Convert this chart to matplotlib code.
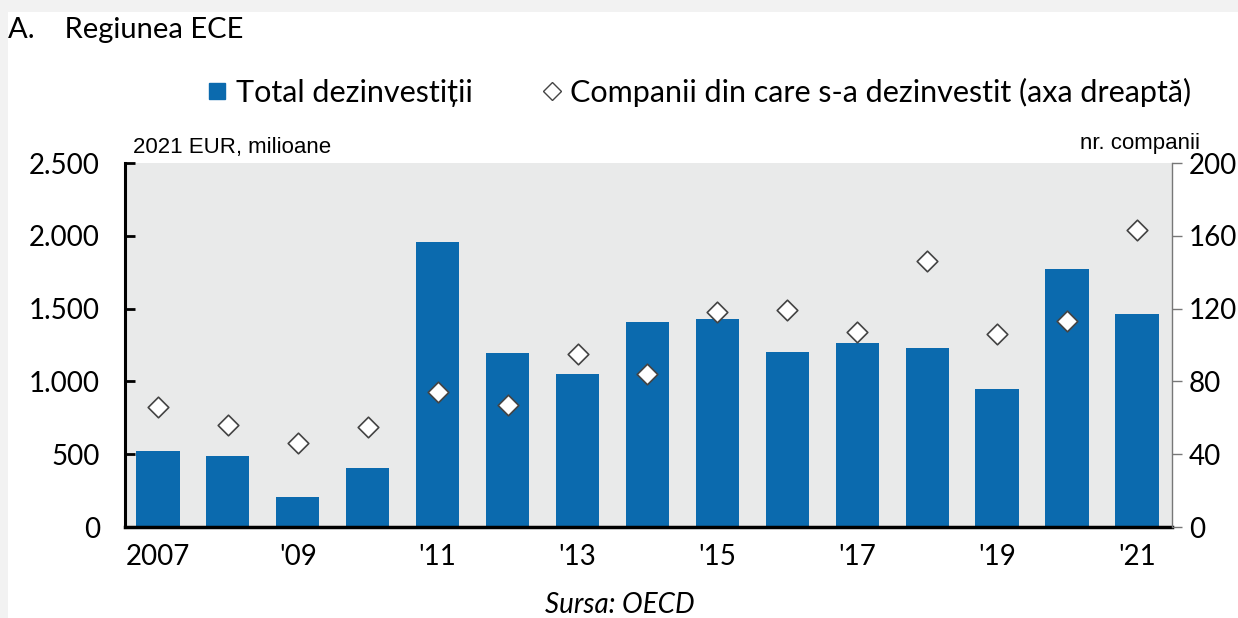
import numpy as np
import matplotlib.pyplot as plt
from matplotlib.patches import Rectangle
from matplotlib.lines import Line2D

years = list(range(2007, 2022))
tick_labels = ['2007', '', "'09", '', "'11", '', "'13", '', "'15", '', "'17", '', "'19", '', "'21"]
total_divest = [525, 488, 203, 408, 1954, 1194, 1053, 1408, 1426, 1200, 1265, 1226, 945, 1774, 1461]
companies = [66, 56, 46, 55, 74, 67, 95, 84, 118, 119, 107, 146, 106, 113, 163]

blue = '#0b6aae'
font = ['Lato', 'DejaVu Sans']
narrow = ['Liberation Sans Narrow', 'Liberation Sans', 'DejaVu Sans']
plt.rcParams['font.family'] = font

fig = plt.figure(figsize=(12.38, 6.18), dpi=100)
fig.patch.set_facecolor('#f2f2f2')
fig.patches.append(Rectangle((8 / 1238, 0), 1, 1 - 12 / 618, transform=fig.transFigure,
                             facecolor='white', edgecolor='none', zorder=-1))

ax = fig.add_axes([125 / 1238, 1 - 527 / 618, (1172 - 125) / 1238, (527 - 163) / 618])
ax.set_facecolor('#e9eaea')
x = np.arange(len(years))
ax.bar(x, total_divest, width=0.62, color=blue, zorder=2)
ax.set_xlim(-0.47, len(years) - 0.5)
ax.set_ylim(0, 2500)
ax.set_yticks([0, 500, 1000, 1500, 2000, 2500])
ax.set_yticklabels(['0', '500', '1.000', '1.500', '2.000', '2.500'])
ax.set_xticks(x)
ax.set_xticklabels(tick_labels)
ax.tick_params(axis='x', length=0, pad=12, labelsize=20)
ax.tick_params(axis='y', direction='in', length=7, width=2, pad=18, labelsize=20)
for s in ['top', 'right']:
    ax.spines[s].set_visible(False)
ax.spines['left'].set_linewidth(2.2)
ax.spines['bottom'].set_linewidth(2.5)

ax2 = ax.twinx()
ax2.scatter(x, companies, marker='D', s=110, facecolor='white', edgecolor='#444444',
            linewidth=1.2, zorder=3)
ax2.set_ylim(0, 200)
ax2.set_yticks([0, 40, 80, 120, 160, 200])
ax2.tick_params(axis='y', direction='out', length=7, width=1, color='#777777', pad=5, labelsize=20)
for s in ['top', 'left', 'bottom']:
    ax2.spines[s].set_visible(False)
ax2.spines['right'].set_color('#777777')
ax2.spines['right'].set_linewidth(1)

fig.text(8 / 1238, 1 - 30 / 618, 'A.    Regiunea ECE', fontsize=21, va='center', ha='left')
fig.text(133 / 1238, 1 - 147 / 618, '2021 EUR, milioane', fontsize=16, family=narrow,
         va='center', ha='left')
fig.text(1200 / 1238, 1 - 143 / 618, 'nr. companii', fontsize=16, family=narrow,
         va='center', ha='right')
fig.text(620 / 1238, 1 - 605 / 618, 'Sursa: OECD', fontsize=20, style='italic',
         va='center', ha='center')

handles = [Line2D([], [], marker='s', linestyle='none', markersize=12, color=blue),
           Line2D([], [], marker='D', linestyle='none', markersize=9,
                  markerfacecolor='white', markeredgecolor='#444444')]
fig.legend(handles, ['Total dezinvestiții', 'Companii din care s-a dezinvestit (axa dreaptă)'],
           loc='center left', bbox_to_anchor=(205 / 1238, 1 - 92 / 618), ncol=2, frameon=False,
           fontsize=22, handletextpad=0.2, columnspacing=2.2, handlelength=0.8,
           borderaxespad=0, borderpad=0)

fig.savefig('out.png', dpi=100, facecolor=fig.get_facecolor())
